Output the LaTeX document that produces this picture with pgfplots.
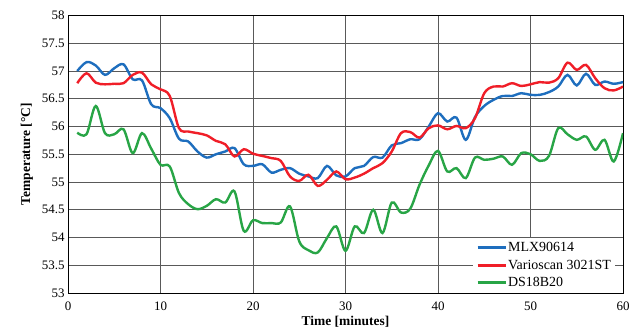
\documentclass[border=0pt]{standalone}
\usepackage{fontspec}
\setmainfont{Liberation Serif}
\usepackage{pgfplots}
\pgfplotsset{compat=1.18}
\definecolor{cblue}{RGB}{30,110,190}
\definecolor{cred}{RGB}{240,30,40}
\definecolor{cgreen}{RGB}{40,165,70}
\begin{document}
\begin{tikzpicture}
\useasboundingbox (0,0) rectangle (640bp,336bp);
\begin{axis}[
  at={(68bp,43bp)}, anchor=south west,
  scale only axis, width=555bp, height=277.5bp,
  xmin=0, xmax=60, ymin=53, ymax=58,
  xtick={0,10,...,60}, ytick={53,53.5,...,58},
  yticklabel style={/pgf/number format/fixed,/pgf/number format/precision=1},
  xticklabel style={yshift=-5bp},
  /pgf/number format/assume math mode=true,
  ticklabel style={font=\fontsize{13}{15}\selectfont},
  tick style={draw=none},
  grid=major, major grid style={draw=black!65, line width=0.9bp},
  axis line style={black, line width=0.9bp},
  xlabel={\textbf{Time [minutes]}}, ylabel={\textbf{Temperature [°C]}},
  label style={font=\fontsize{13.5}{15}\selectfont},
  xlabel style={yshift=1bp}, ylabel style={yshift=2bp},
  legend style={at={(1,0)}, anchor=south east, xshift=-8bp, draw=none, fill=white,
    font=\fontsize{14}{15}\selectfont, row sep=2.5bp, inner sep=2bp,
    inner xsep=3bp, inner ysep=3bp,
    nodes={inner xsep=1bp}},
  legend cell align=left,
  legend image code/.code={\draw[#1, line width=3bp] (0bp,0bp) -- (28bp,0bp);},
  every axis plot/.append style={line width=2.4bp, smooth, tension=0.55},
]
\addplot[cblue] coordinates {
(1,57.0)(2,57.16)(3,57.1)(4,56.93)(5,57.05)(6,57.12)(7,56.85)(8,56.83)(9,56.4)(10,56.33)
(11,56.15)(12,55.78)(13,55.73)(14,55.55)(15,55.44)(16,55.5)(17,55.55)(18,55.61)(19,55.32)(20,55.29)
(21,55.32)(22,55.17)(23,55.22)(24,55.25)(25,55.15)(26,55.1)(27,55.07)(28,55.29)(29,55.12)(30,55.1)
(31,55.25)(32,55.29)(33,55.45)(34,55.44)(35,55.66)(36,55.7)(37,55.77)(38,55.77)(39,56.0)(40,56.24)
(41,56.09)(42,56.16)(43,55.76)(44,56.17)(45,56.37)(46,56.48)(47,56.55)(48,56.55)(49,56.6)(50,56.57)
(51,56.57)(52,56.62)(53,56.72)(54,56.93)(55,56.74)(56,56.95)(57,56.75)(58,56.81)(59,56.77)(60,56.8)};
\addlegendentry{MLX90614}
\addplot[cred] coordinates {
(1,56.78)(2,56.96)(3,56.79)(4,56.76)(5,56.77)(6,56.78)(7,56.93)(8,56.97)(9,56.76)(10,56.67)
(11,56.55)(12,55.97)(13,55.91)(14,55.88)(15,55.84)(16,55.74)(17,55.68)(18,55.46)(19,55.59)(20,55.51)
(21,55.47)(22,55.43)(23,55.38)(24,55.1)(25,55.02)(26,55.13)(27,54.93)(28,55.04)(29,55.19)(30,55.05)
(31,55.08)(32,55.15)(33,55.25)(34,55.34)(35,55.55)(36,55.88)(37,55.9)(38,55.8)(39,55.97)(40,56.02)
(41,55.95)(42,56.01)(43,55.97)(44,56.15)(45,56.6)(46,56.72)(47,56.72)(48,56.78)(49,56.73)(50,56.76)
(51,56.8)(52,56.79)(53,56.87)(54,57.15)(55,57.02)(56,57.11)(57,56.87)(58,56.69)(59,56.65)(60,56.72)};
\addlegendentry{Varioscan 3021ST}
\addplot[cgreen] coordinates {
(1,55.89)(2,55.86)(3,56.37)(4,55.88)(5,55.86)(6,55.95)(7,55.52)(8,55.88)(9,55.6)(10,55.31)
(11,55.28)(12,54.8)(13,54.6)(14,54.51)(15,54.57)(16,54.69)(17,54.63)(18,54.83)(19,54.12)(20,54.31)
(21,54.26)(22,54.26)(23,54.27)(24,54.56)(25,53.93)(26,53.77)(27,53.73)(28,53.99)(29,54.2)(30,53.76)
(31,54.2)(32,54.08)(33,54.5)(34,54.08)(35,54.63)(36,54.45)(37,54.52)(38,54.95)(39,55.3)(40,55.56)
(41,55.19)(42,55.25)(43,55.07)(44,55.44)(45,55.4)(46,55.42)(47,55.46)(48,55.31)(49,55.52)(50,55.5)
(51,55.38)(52,55.47)(53,55.97)(54,55.86)(55,55.76)(56,55.82)(57,55.58)(58,55.76)(59,55.37)(60,55.88)};
\addlegendentry{DS18B20}
\end{axis}
\end{tikzpicture}
\end{document}
